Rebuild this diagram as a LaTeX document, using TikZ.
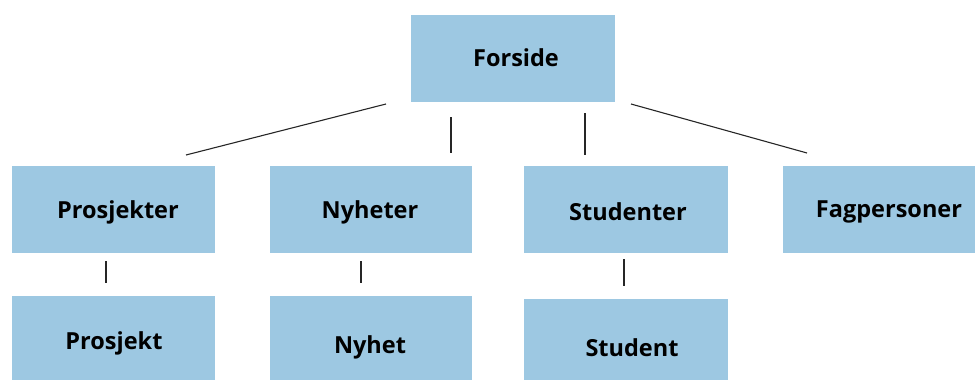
\documentclass[tikz,border=0pt]{standalone}
\usepackage{fontspec}
\setmainfont{Open Sans}
\definecolor{boxblue}{RGB}{157,200,226}
\begin{document}
\begin{tikzpicture}[x=1pt,y=-1pt,
  box/.style={fill=boxblue,draw=none,inner sep=0pt,anchor=north west},
  lbl/.style={font=\fontsize{23.5}{27}\selectfont\bfseries,inner sep=0pt},
  conn/.style={line width=1.1pt,draw=black!85}]
\useasboundingbox (0,0) rectangle (975,380);
\clip (0,0) rectangle (975,380);
% boxes
\node[box,minimum width=204pt,minimum height=87pt] (forside) at (411,15) {};
\node[box,minimum width=203pt,minimum height=87pt] (prosjekter) at (12,166) {};
\node[box,minimum width=202pt,minimum height=87pt] (nyheter) at (270,166) {};
\node[box,minimum width=204pt,minimum height=87pt] (studenter) at (524,166) {};
\node[box,minimum width=215pt,minimum height=87pt] (fagpersoner) at (783,166) {};
\node[box,minimum width=203pt,minimum height=100pt] (prosjekt) at (12,296) {};
\node[box,minimum width=202pt,minimum height=100pt] (nyhet) at (270,296) {};
\node[box,minimum width=204pt,minimum height=100pt] (student) at (524,299) {};
% labels
\node[lbl] (tforside) at (516,58) {Forside};
\node[lbl] (tprosjekter) at (118,212) {Prosjekter};
\node[lbl] (tnyheter) at (370,212) {Nyheter};
\node[lbl] (tstudenter) at (628,212) {Studenter};
\node[lbl] (tfagpersoner) at (889,212) {Fagpersoner};
\node[lbl] (tprosjekt) at (114,343) {Prosjekt};
\node[lbl] (tnyhet) at (370,347) {Nyhet};
\node[lbl] (tstudent) at (632,348) {Student};
% connector ends
\coordinate (a1) at (386,104); \coordinate (a2) at (186,155);
\coordinate (b1) at (451,117); \coordinate (b2) at (451,153);
\coordinate (c1) at (585,113); \coordinate (c2) at (585,155);
\coordinate (d1) at (631,104); \coordinate (d2) at (807,153);
\coordinate (e1) at (106,261); \coordinate (e2) at (106,283);
\coordinate (f1) at (361,261); \coordinate (f2) at (361,283);
\coordinate (g1) at (624,259); \coordinate (g2) at (624,286);
\draw[conn] (a1) -- (a2);
\draw[conn] (b1) -- (b2);
\draw[conn] (c1) -- (c2);
\draw[conn] (d1) -- (d2);
\draw[conn] (e1) -- (e2);
\draw[conn] (f1) -- (f2);
\draw[conn] (g1) -- (g2);
\end{tikzpicture}
\end{document}
